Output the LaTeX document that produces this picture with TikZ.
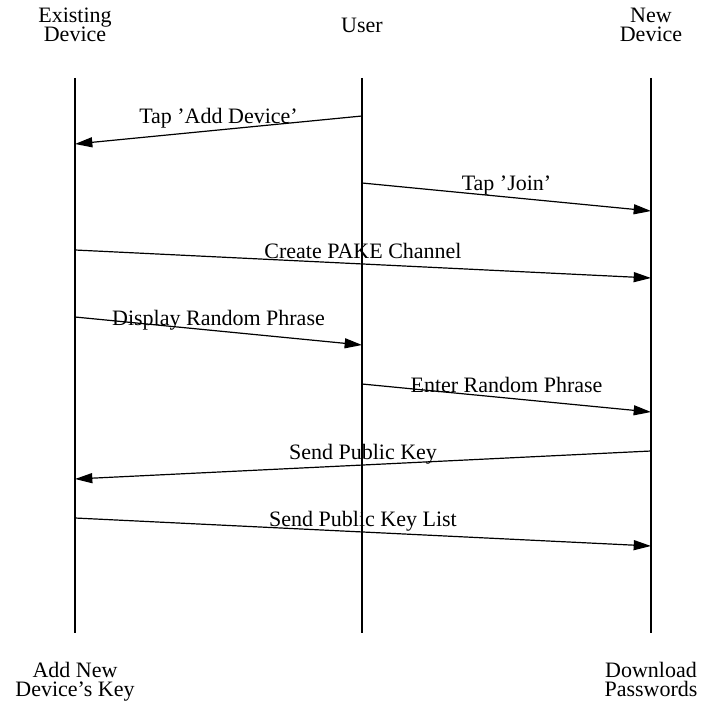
\documentclass[tikz,border=0pt]{standalone}
\usepackage{fontspec}
\setmainfont{Liberation Serif}
\usetikzlibrary{arrows.meta, positioning}
\newcommand\partyfont{\fontsize{16.5}{14.25}\selectfont\lineskiplimit=-5pt\relax}

\begin{document}
\begin{tikzpicture}[x=0.75pt, y=-0.75pt, >={Triangle[length=13pt,width=7.5pt]},
  party/.style={align=center, inner sep=0pt, font=\partyfont},
  life/.style={line width=1.1pt},
  msg/.style={->, line width=0.9pt},
  lbl/.style={midway, anchor=base, yshift=4.5pt, inner sep=0pt, font=\fontsize{16.5}{18}\selectfont}]
  \useasboundingbox (0,0) rectangle (701,702);
  % parties
  \node[party] (exdev) at (75,25) {Existing\\Device};
  \node[party] (user) at (362,25) {User};
  \node[party] (newdev) at (651,25) {New\\Device};
  % lifelines
  \coordinate (Etop) at (75,78);   \coordinate (Ebot) at (75,633);
  \coordinate (Utop) at (362,78);  \coordinate (Ubot) at (362,633);
  \coordinate (Ntop) at (651,78);  \coordinate (Nbot) at (651,633);
  \draw[life] (Etop) -- (Ebot);
  \draw[life] (Utop) -- (Ubot);
  \draw[life] (Ntop) -- (Nbot);
  \node[party, below=21.75pt of Ebot] (addkey) {Add New\\Device's Key};
  \node[party, below=21.75pt of Nbot] (download) {Download\\Passwords};
  % message end points
  \coordinate (m1a) at (362,116); \coordinate (m1b) at (75,144);
  \coordinate (m2a) at (362,183); \coordinate (m2b) at (651,211);
  \coordinate (m3a) at (75,250);  \coordinate (m3b) at (651,278);
  \coordinate (m4a) at (75,317);  \coordinate (m4b) at (362,345);
  \coordinate (m5a) at (362,384); \coordinate (m5b) at (651,412);
  \coordinate (m6a) at (651,451); \coordinate (m6b) at (75,479);
  \coordinate (m7a) at (75,518);  \coordinate (m7b) at (651,546);
  % messages
  \draw[msg] (m1a) -- node[lbl] {Tap 'Add Device'} (m1b);
  \draw[msg] (m2a) -- node[lbl] {Tap 'Join'} (m2b);
  \draw[msg] (m3a) -- node[lbl] {Create PAKE Channel} (m3b);
  \draw[msg] (m4a) -- node[lbl] {Display Random Phrase} (m4b);
  \draw[msg] (m5a) -- node[lbl] {Enter Random Phrase} (m5b);
  \draw[msg] (m6a) -- node[lbl] {Send Public Key} (m6b);
  \draw[msg] (m7a) -- node[lbl] {Send Public Key List} (m7b);
\end{tikzpicture}
\end{document}
